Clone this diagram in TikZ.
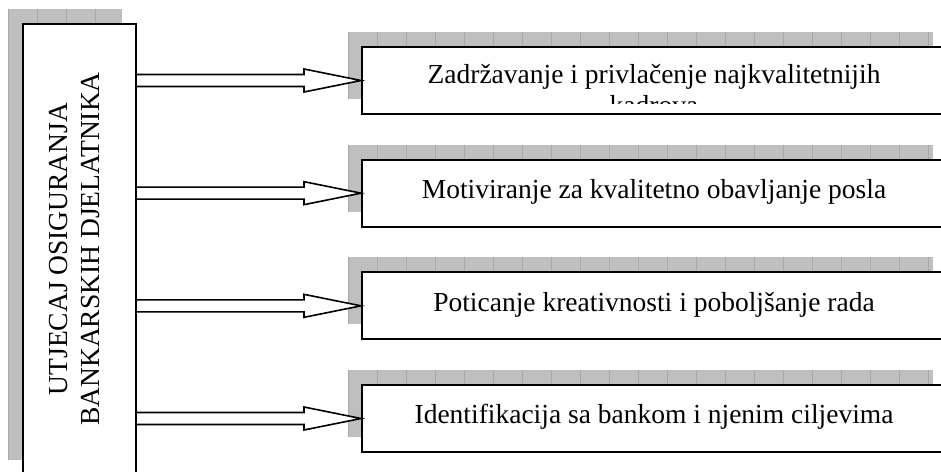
\documentclass[tikz,border=0pt]{standalone}
\usepackage{fontspec}
\setmainfont{Liberation Serif}
\usetikzlibrary{calc}

\tikzset{
  shadowbox/.style={fill=black!25},
  shadowgrid/.style={draw=black!34, line width=0.3pt},
  impactbox/.style={draw=black, line width=1pt, fill=white, minimum width=56.5pt, minimum height=225pt, inner sep=0pt},
  itembox/.style={draw=black, line width=1pt, fill=white, minimum width=292pt, minimum height=33.5pt, inner sep=0pt},
  itemtext/.style={font=\fontsize{13.75}{16}\selectfont, align=center, inner sep=0pt},
  blockarrow/.style={draw=black, line width=0.8pt, fill=white, line join=miter}
}

\begin{document}
\begin{tikzpicture}[x=0.5pt,y=-0.5pt]
\clip (0,0) rectangle (941,471);
\fill[white] (0,0) rectangle (941,471);
% Drawing shadows
% Shadow 0: left box
\fill[shadowbox] (8,9) rectangle (122,460);
\begin{scope}[shift={(8,9)}]
\clip (0,0) rectangle (114,451);
\draw[shadowgrid] (0,0) grid[step=29] (114,451);
\end{scope}
% Shadow 1..4: right boxes
\foreach \t in {32,144.67,257.33,370} {
  \fill[shadowbox] (348,\t) rectangle (933,\t+67);
  \begin{scope}[shift={(348,\t)}]
  \clip (0,0) rectangle (585,67);
  \draw[shadowgrid] (0,0) grid[step=29] (585,67);
  \end{scope}
}
% Done with shadows; drawing boxes
\node[impactbox] (impact) at (79.5,249) {};
\node[itembox] (keep) at (654,80.5) {};
\node[itembox] (motiv) at (654,193.17) {};
\node[itembox] (creat) at (654,305.83) {};
\node[itembox] (ident) at (654,418.5) {};
% Done with boxes; drawing arrows
\foreach \n in {keep,motiv,creat,ident}
  \draw[blockarrow] ($(impact.east|-\n.west)+(0,-6)$) -- ($(\n.west)+(-57,-6)$)
    -- ($(\n.west)+(-57,-11.5)$) -- (\n.west) -- ($(\n.west)+(-57,11.5)$)
    -- ($(\n.west)+(-57,6)$) -- ($(impact.east|-\n.west)+(0,6)$);
% Done with arrows; drawing labels
\node[itemtext, rotate=90] (impacttext) at (75,249) {UTJECAJ OSIGURANJA\\BANKARSKIH DJELATNIKA};
\begin{scope}
\clip ($(keep.north west)+(2,2)$) rectangle ($(keep.north east)+(-2,57)$);
\node[itemtext, anchor=north, font=\fontsize{13.75}{15.5}\selectfont] (keeptext) at (654,64) {Zadržavanje i privlačenje najkvalitetnijih\\kadrova};
\end{scope}
\node[itemtext, anchor=base] (motivtext) at (654,198.5) {Motiviranje za kvalitetno obavljanje posla};
\node[itemtext, anchor=base] (creattext) at (654,311) {Poticanje kreativnosti i poboljšanje rada};
\node[itemtext, anchor=base] (identtext) at (654,423.5) {Identifikacija sa bankom i njenim ciljevima};
% Done with labels
\end{tikzpicture}
\end{document}
